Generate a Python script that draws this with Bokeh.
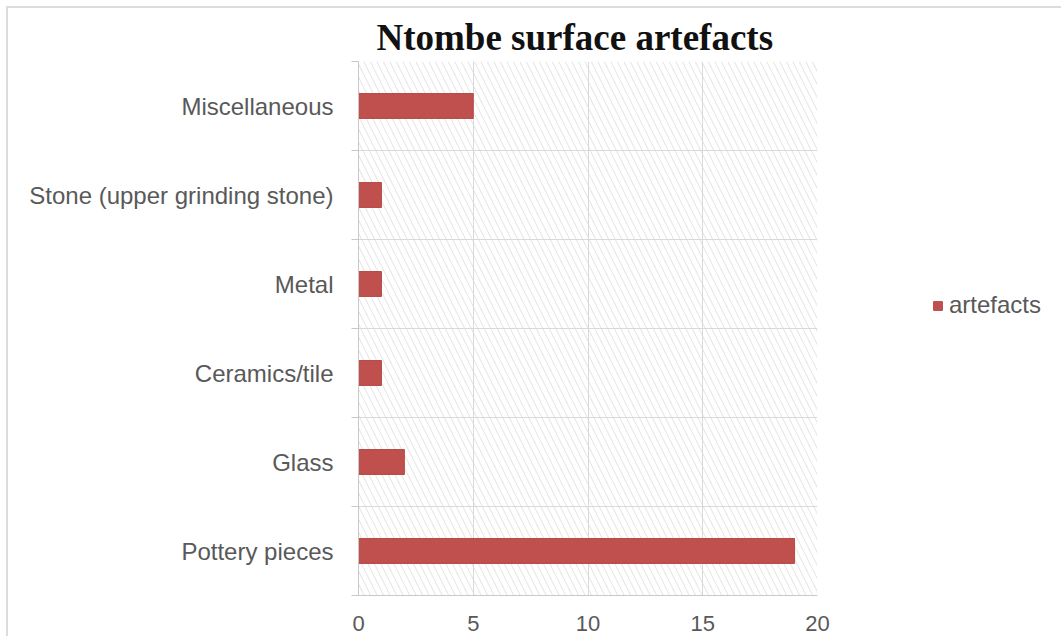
from bokeh.plotting import figure
from bokeh.models import (Range1d, FixedTicker, BoxAnnotation, Legend, LegendItem,
                          ColumnDataSource)
from bokeh.embed import file_html
from bokeh.resources import INLINE

categories = ["Pottery pieces", "Glass", "Ceramics/tile", "Metal",
              "Stone (upper grinding stone)", "Miscellaneous"]
artefacts = [19, 2, 1, 1, 1, 5]
x_ticks = [0, 5, 10, 15, 20]
title_text = "Ntombe surface artefacts"
series_name = "artefacts"

ypos = [i + 0.5 for i in range(len(categories))]
src = ColumnDataSource(dict(y=ypos, v=artefacts, cat=categories))

p = figure(width=1053, height=628, output_backend="svg", toolbar_location=None,
           x_range=Range1d(0, 20), y_range=Range1d(0, len(categories)),
           frame_width=459, frame_height=534,
           min_border_left=350, min_border_right=244, min_border_top=53,
           min_border_bottom=41)
p.styles = {"margin-left": "6px", "margin-top": "6px",
            "border-left": "2px solid #dcdcdc", "border-top": "2px solid #dcdcdc"}

p.title.text = title_text
p.title.align = "left"
p.title.offset = 18
p.title.text_font = "Liberation Serif"
p.title.text_font_size = "37px"
p.title.text_font_style = "bold"
p.title.text_color = "#111111"
p.title.standoff = 8

p.outline_line_color = None
bg = BoxAnnotation(fill_color="white", fill_alpha=1, line_color=None,
                   hatch_pattern="left_diagonal_line", hatch_color="#e2e2e2",
                   hatch_scale=13, hatch_weight=1, level="image")
p.add_layout(bg)

r = p.hbar(y="y", right="v", left=0, height=0.28, source=src,
           fill_color="#C0504D", line_color="#B84A47")

# axes
p.xaxis.ticker = FixedTicker(ticks=x_ticks)
p.xaxis.major_tick_line_color = None
p.xaxis.minor_tick_line_color = None
p.xaxis.axis_line_color = "#c8c8c8"
p.xaxis.major_label_text_font = "Liberation Sans"
p.xaxis.major_label_text_font_size = "22px"
p.xaxis.major_label_text_color = "#595959"
p.xaxis.major_label_standoff = 14

p.yaxis.ticker = FixedTicker(ticks=ypos, minor_ticks=list(range(len(categories) + 1)))
p.yaxis.major_label_overrides = {y: c for y, c in zip(ypos, categories)}
p.yaxis.major_tick_line_color = None
p.yaxis.minor_tick_line_color = "#c8c8c8"
p.yaxis.minor_tick_out = 7
p.yaxis.minor_tick_in = 0
p.yaxis.axis_line_color = "#c8c8c8"
p.yaxis.major_label_text_font = "Liberation Sans"
p.yaxis.major_label_text_font_size = "24px"
p.yaxis.major_label_text_color = "#595959"
p.yaxis.major_label_standoff = 18

p.xgrid.ticker = FixedTicker(ticks=x_ticks)
p.xgrid.grid_line_color = "#d9d9d9"
p.ygrid.ticker = FixedTicker(ticks=list(range(len(categories) + 1)))
p.ygrid.grid_line_color = "#d9d9d9"

legend = Legend(items=[LegendItem(label=series_name, renderers=[r])],
                location=(115, 276), border_line_color=None,
                background_fill_alpha=0, label_text_font="Liberation Sans",
                label_text_font_size="24px", label_text_color="#595959",
                glyph_width=11, glyph_height=11, padding=0, margin=0,
                label_standoff=6)
p.add_layout(legend, "right")

open("out.html", "w").write(file_html(p, INLINE))
